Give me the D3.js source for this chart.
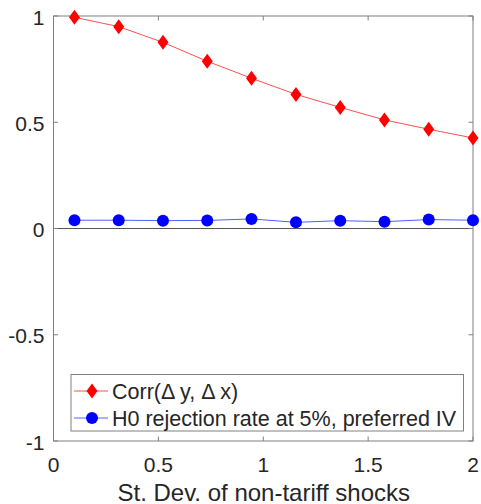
<!DOCTYPE html>
<html lang="en">
<head>
<meta charset="UTF-8" />
<title>Corr and rejection rate</title>
<script src="https://d3js.org/d3.v7.min.js"></script>
<style>
  body { margin: 0; background: #fff; font-family: "Liberation Sans", Arial, sans-serif; }
  svg text { fill: #262626; }
</style>
</head>
<body>
<svg id="chart" width="481" height="504"></svg>
<script>
  // data
  const sdShocks = [0.1, 0.311, 0.522, 0.733, 0.944, 1.156, 1.367, 1.578, 1.789, 2.0];
  const corrDyDx = [0.994, 0.95, 0.876, 0.787, 0.707, 0.631, 0.57, 0.511, 0.467, 0.426];
  const rejectRate = [0.039, 0.039, 0.037, 0.038, 0.045, 0.029, 0.037, 0.032, 0.042, 0.039];
  const xTicks = [0, 0.5, 1, 1.5, 2];
  const yTicks = [-1, -0.5, 0, 0.5, 1];
  const legendLabels = ["Corr(\u0394 y, \u0394 x)", "H0 rejection rate at 5%, preferred IV"];

  const svg = d3.select("#chart");
  const mLeft = 53.5, mRight = 473, mTop = 16, mBottom = 441;

  const x = d3.scaleLinear().domain([0, 2]).range([mLeft, mRight]);
  const y = d3.scaleLinear().domain([-1, 1]).range([mBottom, mTop]);

  const axisColor = "#808080";

  // box
  svg.append("rect")
    .attr("x", mLeft).attr("y", mTop)
    .attr("width", mRight - mLeft).attr("height", mBottom - mTop)
    .attr("fill", "none").attr("stroke", axisColor).attr("stroke-width", 1);

  // zero line
  svg.append("line")
    .attr("x1", mLeft).attr("x2", mRight)
    .attr("y1", y(0)).attr("y2", y(0))
    .attr("stroke", "#555").attr("stroke-width", 1);

  const tickLen = 4.5;
  xTicks.forEach(t => {
    svg.append("line").attr("x1", x(t)).attr("x2", x(t)).attr("y1", mBottom).attr("y2", mBottom - tickLen).attr("stroke", axisColor);
    svg.append("line").attr("x1", x(t)).attr("x2", x(t)).attr("y1", mTop).attr("y2", mTop + tickLen).attr("stroke", axisColor);
    svg.append("text").attr("x", x(t)).attr("y", 471.5)
      .attr("text-anchor", "middle").attr("font-size", 21).text(t);
  });
  yTicks.forEach(t => {
    svg.append("line").attr("x1", mLeft).attr("x2", mLeft + tickLen).attr("y1", y(t)).attr("y2", y(t)).attr("stroke", axisColor);
    svg.append("line").attr("x1", mRight).attr("x2", mRight - tickLen).attr("y1", y(t)).attr("y2", y(t)).attr("stroke", axisColor);
    svg.append("text").attr("x", 44.5).attr("y", y(t) + 8.7)
      .attr("text-anchor", "end").attr("font-size", 21).text(t);
  });

  svg.append("text").attr("x", (mLeft + mRight) / 2 + 0.5).attr("y", 500.5)
    .attr("text-anchor", "middle").attr("font-size", 24)
    .text("St. Dev. of non-tariff shocks");

  const line = d3.line().x(d => x(d[0])).y(d => y(d[1]));
  const redPts = d3.zip(sdShocks, corrDyDx);
  const bluePts = d3.zip(sdShocks, rejectRate);

  const diamond = (cx, cy) => `M${cx},${cy - 7.5}L${cx + 5.5},${cy}L${cx},${cy + 7.5}L${cx - 5.5},${cy}Z`;

  svg.append("path").attr("d", line(redPts)).attr("fill", "none").attr("stroke", "#ff5050").attr("stroke-width", 1);
  svg.append("path").attr("d", line(bluePts)).attr("fill", "none").attr("stroke", "#5060ff").attr("stroke-width", 1);

  svg.selectAll(".dia").data(redPts).enter().append("path")
    .attr("d", d => diamond(x(d[0]), y(d[1]))).attr("fill", "#ff0000");
  svg.selectAll(".dot").data(bluePts).enter().append("circle")
    .attr("cx", d => x(d[0])).attr("cy", d => y(d[1])).attr("r", 6).attr("fill", "#0000ff");

  // legend
  const lg = svg.append("g");
  lg.append("rect").attr("x", 71).attr("y", 374.5).attr("width", 392.5).attr("height", 56.5)
    .attr("fill", "#fff").attr("stroke", axisColor);
  const rows = [391, 418];
  legendLabels.forEach((lab, i) => {
    const cy = rows[i];
    lg.append("line").attr("x1", 74).attr("x2", 108).attr("y1", cy).attr("y2", cy)
      .attr("stroke", i === 0 ? "#ff5050" : "#5060ff");
    if (i === 0) lg.append("path").attr("d", diamond(92, cy)).attr("fill", "#ff0000");
    else lg.append("circle").attr("cx", 92).attr("cy", cy).attr("r", 6).attr("fill", "#0000ff");
    lg.append("text").attr("x", 112).attr("y", cy + 7.8).attr("font-size", 21.5).text(lab);
  });
</script>
</body>
</html>
